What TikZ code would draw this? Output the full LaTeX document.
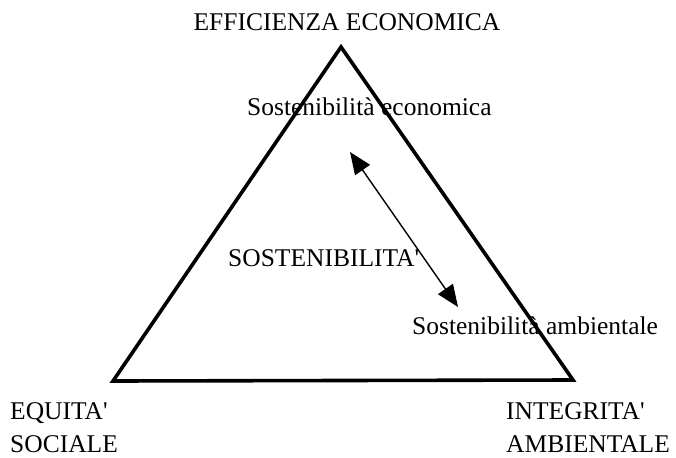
\documentclass[tikz,border=0pt]{standalone}
\usepackage{fontspec}
\setmainfont{Liberation Serif}[Ligatures=TeXOff]
\usetikzlibrary{arrows.meta}
\begin{document}
\begin{tikzpicture}[x=1pt,y=-1pt,
  lbl/.style={font=\fontsize{25.5}{28}\selectfont, inner sep=0pt},
  lblL/.style={lbl, anchor=west},
  edge/.style={line width=3.6pt, line join=miter},
  dbl/.style={line width=1.4pt, {Triangle[length=22pt,width=18pt]}-{Triangle[length=22pt,width=18pt]}}]
\useasboundingbox (0,0) rectangle (676,457);
\coordinate (A) at (341,47);
\coordinate (B) at (113,381);
\coordinate (C) at (573,380);
\draw[edge] (A) -- (B) -- (C) -- cycle;
\node[lbl] (top) at (347,22) {EFFICIENZA ECONOMICA};
\node[lblL] (se) at (247,107) {Sostenibilità economica};
\node[lblL] (sost) at (228,258) {SOSTENIBILITA'};
\node[lblL] (sa) at (412,326) {Sostenibilità ambientale};
\node[lblL, align=left] (eq) at (10,428) {EQUITA'\\[5pt]SOCIALE};
\node[lblL, align=left] (int) at (506,428) {INTEGRITA'\\[5pt]AMBIENTALE};
\coordinate (p1) at (350,152);
\coordinate (p2) at (458,307);
\draw[dbl] (p1) -- (p2);
\end{tikzpicture}
\end{document}
